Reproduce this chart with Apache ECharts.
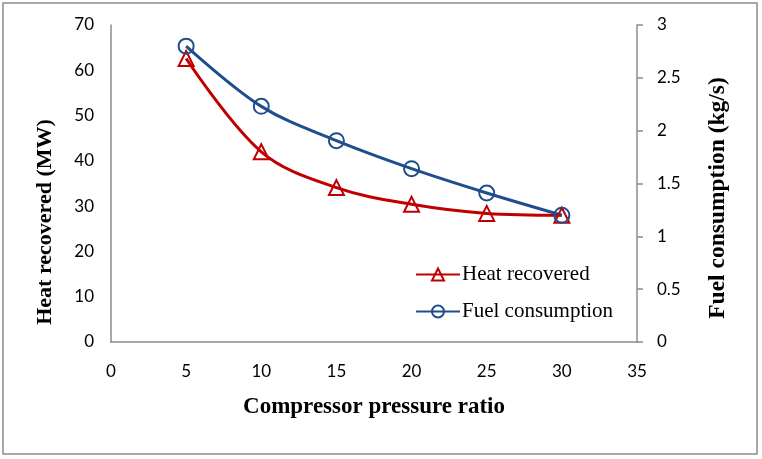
<!DOCTYPE html>
<html><head><meta charset="utf-8">
<script src="https://cdn.jsdelivr.net/npm/echarts@6/dist/echarts.min.js"></script>
<style>html,body{margin:0;padding:0;background:#fff}#c{width:762px;height:459px}</style>
</head><body><div id="c"></div>
<script>
const pressureRatio = [5, 10, 15, 20, 25, 30];
const heatRecovered = [62.6, 42.0, 34.1, 30.4, 28.4, 28.0];
const fuelConsumption = [2.80, 2.23, 1.905, 1.64, 1.41, 1.20];

const RED = '#C00000', BLUE = '#1F4E8C';
const tickFont = {fontFamily: 'Lato', fontSize: 17, color: '#000'};
const nameFont = {fontFamily: 'Liberation Serif', fontSize: 23, fontWeight: 'bold', color: '#000'};

const chart = echarts.init(document.getElementById('c'), null, {renderer: 'canvas'});
chart.setOption({
  animation: false,
  backgroundColor: '#fff',
  graphic: [
    {type: 'rect', shape: {x: 3, y: 3, width: 754, height: 451},
      style: {fill: 'none', stroke: '#8c8c8c', lineWidth: 1.5}, z: -1},
    {type: 'text', x: 45, y: 222, rotation: Math.PI / 2,
      style: {text: 'Heat recovered (MW)', fontFamily: 'Liberation Serif', fontSize: 22, fontWeight: 'bold',
        fill: '#000', align: 'center', verticalAlign: 'middle'}},
    {type: 'text', x: 718, y: 198, rotation: Math.PI / 2,
      style: {text: 'Fuel consumption (kg/s)', fontFamily: 'Liberation Serif', fontSize: 23.5, fontWeight: 'bold',
        fill: '#000', align: 'center', verticalAlign: 'middle'}}
  ],
  grid: {left: 111, right: 125, top: 25, bottom: 117},
  legend: {
    orient: 'vertical', left: 410, top: 259, itemGap: 16, itemWidth: 44, itemHeight: 15,
    textStyle: {fontFamily: 'Liberation Serif', fontSize: 21, color: '#000', padding: [0, 0, 0, -3]},
    data: ['Heat recovered', 'Fuel consumption']
  },
  xAxis: {
    type: 'value', min: 0, max: 35, interval: 5,
    name: 'Compressor pressure ratio', nameLocation: 'middle', nameGap: 54, nameTextStyle: nameFont,
    axisLine: {show: true, lineStyle: {color: '#8c8c8c', width: 1.5}},
    axisTick: {show: false}, splitLine: {show: false},
    axisLabel: Object.assign({margin: 21}, tickFont)
  },
  yAxis: [{
    type: 'value', min: 0, max: 70, interval: 10,
    axisLine: {show: true, lineStyle: {color: '#8c8c8c', width: 1.5}},
    axisTick: {show: false}, splitLine: {show: false},
    axisLabel: Object.assign({margin: 17}, tickFont)
  }, {
    type: 'value', min: 0, max: 3, interval: 0.5, position: 'right',
    axisLine: {show: true, lineStyle: {color: '#8c8c8c', width: 1.5}},
    axisTick: {show: true, inside: false, length: 6, lineStyle: {color: '#8c8c8c', width: 1.5}},
    splitLine: {show: false},
    axisLabel: Object.assign({margin: 20}, tickFont)
  }],
  series: [{
    name: 'Heat recovered', type: 'line', yAxisIndex: 0, smooth: 0.35,
    data: pressureRatio.map((x, i) => [x, heatRecovered[i]]),
    symbol: 'triangle', symbolSize: 15,
    lineStyle: {color: RED, width: 3},
    itemStyle: {color: 'rgba(255,255,255,0)', borderColor: RED, borderWidth: 2}
  }, {
    name: 'Fuel consumption', type: 'line', yAxisIndex: 1, smooth: 0.35,
    data: pressureRatio.map((x, i) => [x, fuelConsumption[i]]),
    symbol: 'circle', symbolSize: 15,
    lineStyle: {color: BLUE, width: 3},
    itemStyle: {color: 'rgba(255,255,255,0)', borderColor: BLUE, borderWidth: 2}
  }]
});
</script></body></html>
